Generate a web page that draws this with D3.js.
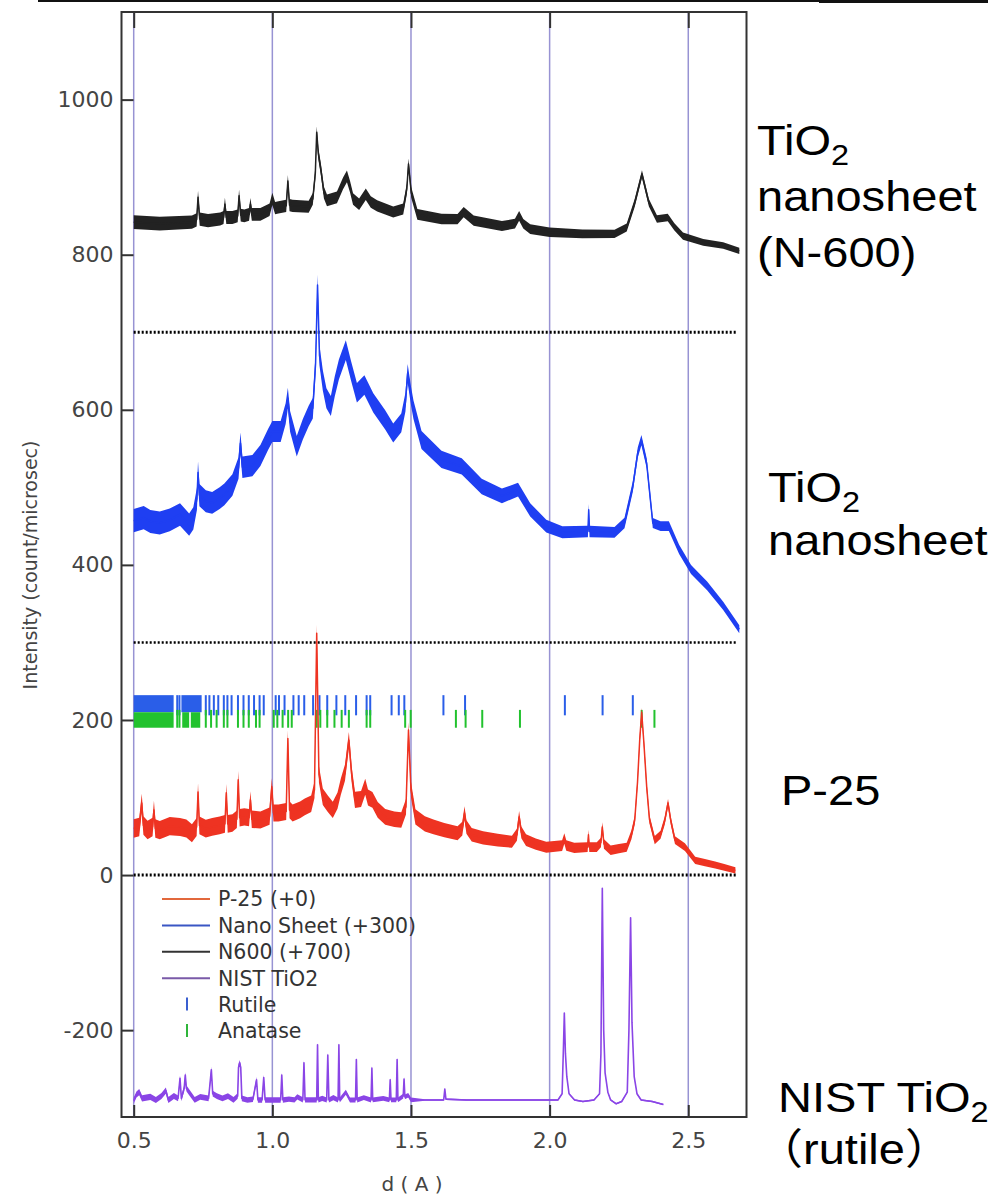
<!DOCTYPE html>
<html>
<head>
<meta charset="utf-8">
<script src="https://cdn.jsdelivr.net/npm/d3@7"></script>
<style>
  body { margin: 0; background: #fff; }
  svg { display: block; }
  .tick text { font-family: 'DejaVu Sans', sans-serif; font-size: 22px; fill: #444; }
</style>
</head>
<body>
<svg id="chart" width="1003" height="1196"></svg>
<script>
// ---- data ----
const xTicks = [0.5, 1.0, 1.5, 2.0, 2.5];
const yTicks = [-200, 0, 200, 400, 600, 800, 1000];
const offsets = [0, 300, 700, 0]; // P-25, Nano Sheet, N600, NIST
const baselines = [0, 300, 700];

// [d, intensity] before offset
const p25 = [[0.50,60],[0.52,62],[0.529,93],[0.535,64],[0.55,58],[0.568,62],[0.573,84],[0.578,60],[0.594,58],[0.63,63],[0.667,62],[0.69,60],[0.71,54],[0.727,62],[0.732,107],[0.737,64],[0.76,60],[0.783,62],[0.81,64],[0.829,66],[0.834,106],[0.839,66],[0.856,67],[0.872,72],[0.877,123],[0.882,74],[0.899,75],[0.916,74],[0.921,97],[0.926,72],[0.957,71],[0.99,76],[0.998,114],[1.004,80],[1.022,80],[1.05,82],[1.056,176],[1.062,84],[1.073,80],[1.10,84],[1.117,88],[1.14,92],[1.152,110],[1.16,312],[1.168,130],[1.182,101],[1.20,92],[1.218,84],[1.235,96],[1.247,114],[1.262,132],[1.276,174],[1.286,130],[1.298,97],[1.32,98],[1.335,114],[1.345,100],[1.361,97],[1.38,84],[1.407,75],[1.44,72],[1.465,71],[1.482,88],[1.491,187],[1.50,110],[1.516,75],[1.55,66],[1.581,62],[1.62,58],[1.668,54],[1.685,60],[1.693,80],[1.70,62],[1.719,52],[1.76,48],[1.813,45],[1.864,43],[1.882,52],[1.89,75],[1.898,55],[1.915,45],[1.95,40],[1.988,36],[2.045,38],[2.053,47],[2.06,38],[2.089,35],[2.137,36],[2.14,52],[2.143,36],[2.17,36],[2.185,42],[2.19,62],[2.196,40],[2.22,32],[2.25,34],[2.278,36],[2.295,52],[2.307,71],[2.317,120],[2.325,175],[2.332,210],[2.34,170],[2.35,114],[2.36,72],[2.379,45],[2.40,52],[2.415,70],[2.427,93],[2.437,70],[2.452,45],[2.488,36],[2.525,19],[2.56,16],[2.597,13],[2.63,10],[2.67,6]];
const nanoSheet = [[0.50,157],[0.536,161],[0.56,156],[0.594,154],[0.63,158],[0.667,165],[0.70,152],[0.715,160],[0.728,185],[0.732,219],[0.737,190],[0.76,182],[0.783,180],[0.81,186],[0.827,191],[0.856,203],[0.878,225],[0.885,257],[0.892,226],[0.928,228],[0.957,241],[0.985,262],[1.0,272],[1.03,272],[1.048,295],[1.056,315],[1.064,285],[1.088,253],[1.11,275],[1.131,292],[1.146,302],[1.156,360],[1.163,461],[1.17,370],[1.182,338],[1.195,315],[1.211,305],[1.225,330],[1.24,352],[1.265,377],[1.284,350],[1.305,322],[1.332,332],[1.364,309],[1.407,287],[1.436,270],[1.465,283],[1.48,310],[1.488,347],[1.50,318],[1.509,300],[1.538,261],[1.61,236],[1.683,227],[1.755,201],[1.828,189],[1.886,197],[1.93,171],[1.988,150],[2.046,142],[2.138,143],[2.141,171],[2.144,143],[2.234,142],[2.27,154],[2.30,201],[2.318,245],[2.331,261],[2.35,231],[2.372,154],[2.40,150],[2.43,150],[2.467,120],[2.51,94],[2.568,73],[2.626,47],[2.684,17]];
const n600 = [[0.50,142],[0.594,140],[0.71,142],[0.727,145],[0.732,174],[0.738,146],[0.768,144],[0.812,146],[0.824,148],[0.829,165],[0.834,148],[0.856,148],[0.875,150],[0.88,176],[0.886,151],[0.899,150],[0.916,152],[0.921,165],[0.926,152],[0.957,152],[0.99,158],[1.0,172],[1.01,160],[1.022,161],[1.05,163],[1.056,195],[1.062,164],[1.073,163],[1.131,162],[1.146,172],[1.155,205],[1.16,258],[1.166,230],[1.175,210],[1.186,180],[1.197,170],[1.233,174],[1.255,192],[1.269,201],[1.28,188],[1.291,172],[1.313,165],[1.337,178],[1.355,168],[1.378,163],[1.436,155],[1.472,159],[1.485,185],[1.491,217],[1.501,180],[1.523,152],[1.61,146],[1.668,146],[1.69,155],[1.726,144],[1.828,137],[1.875,140],[1.89,150],[1.905,140],[1.93,133],[2.0,129],[2.118,127],[2.234,127],[2.278,135],[2.307,167],[2.333,204],[2.358,167],[2.387,146],[2.426,148],[2.45,136],[2.481,124],[2.554,116],[2.626,112],[2.684,105]];
const nistTiO2 = [[0.50,-291],[0.51,-283],[0.52,-280],[0.53,-288],[0.56,-286],[0.58,-290],[0.60,-285],[0.616,-278],[0.625,-290],[0.645,-285],[0.66,-288],[0.667,-262],[0.672,-288],[0.682,-275],[0.686,-258],[0.69,-275],[0.70,-280],[0.72,-290],[0.74,-286],[0.77,-288],[0.775,-270],[0.78,-251],[0.785,-282],[0.80,-285],[0.82,-288],[0.84,-285],[0.86,-290],[0.875,-285],[0.878,-248],[0.882,-242],[0.886,-248],[0.89,-288],[0.91,-290],[0.93,-289],[0.943,-264],[0.948,-290],[0.963,-290],[0.969,-261],[0.974,-290],[1.0,-290],[1.03,-290],[1.034,-258],[1.038,-290],[1.06,-289],[1.08,-290],[1.09,-286],[1.11,-290],[1.114,-242],[1.118,-290],[1.14,-290],[1.16,-290],[1.163,-219],[1.166,-290],[1.18,-288],[1.196,-290],[1.2,-232],[1.204,-290],[1.22,-287],[1.237,-290],[1.24,-219],[1.243,-290],[1.265,-280],[1.28,-290],[1.30,-290],[1.303,-238],[1.306,-290],[1.33,-287],[1.356,-290],[1.359,-249],[1.362,-290],[1.40,-288],[1.422,-290],[1.425,-264],[1.428,-290],[1.447,-290],[1.45,-238],[1.453,-290],[1.472,-285],[1.475,-263],[1.478,-286],[1.49,-284],[1.5,-290],[1.55,-290],[1.60,-290],[1.618,-290],[1.622,-276],[1.626,-289],[1.70,-290],[1.80,-290],[1.90,-290],[2.0,-290],[2.03,-290],[2.045,-282],[2.05,-220],[2.053,-178],[2.057,-230],[2.062,-260],[2.07,-282],[2.09,-290],[2.12,-292],[2.16,-290],[2.18,-282],[2.185,-230],[2.19,-17],[2.195,-200],[2.2,-255],[2.21,-280],[2.22,-290],[2.24,-295],[2.26,-292],[2.28,-280],[2.286,-200],[2.292,-55],[2.297,-190],[2.305,-260],[2.315,-282],[2.33,-290],[2.37,-292],[2.41,-296]];

// noise half-width of each trace band, [d, intensity]
const p25Noise = [[0.5, 12], [1.5, 10], [2.0, 7], [2.7, 4]];
const nanoNoise = [[0.5, 15], [1.5, 12], [2.0, 8], [2.7, 5]];
const n600Noise = [[0.5, 9], [1.5, 7], [2.0, 6], [2.7, 4]];
const nistNoise = [[0.5, 4], [1.5, 3], [1.52, 1], [2.7, 1]];

// reference reflection positions (d)
const rutileBlocks = [[0.5, 0.644], [0.672, 0.745]];
const rutileTicks = [0.657, 0.665, 0.760, 0.773, 0.789, 0.805, 0.825, 0.838, 0.853, 0.876, 0.896, 0.915, 0.934, 0.954, 0.969, 1.012, 1.024, 1.044, 1.076, 1.095, 1.115, 1.147, 1.170, 1.198, 1.231, 1.263, 1.302, 1.340, 1.353, 1.430, 1.456, 1.476, 1.617, 1.695, 2.055, 2.191, 2.300];
const anataseBlocks = [[0.5, 0.644], [0.675, 0.70], [0.706, 0.74]];
const anataseTicks = [0.657, 0.665, 0.760, 0.779, 0.799, 0.825, 0.838, 0.876, 0.896, 0.915, 0.941, 0.954, 1.005, 1.018, 1.037, 1.057, 1.070, 1.160, 1.173, 1.198, 1.224, 1.250, 1.276, 1.340, 1.353, 1.479, 1.499, 1.662, 1.697, 1.757, 1.893, 2.332, 2.378];

const legendLabels = ['P-25 (+0)', 'Nano Sheet (+300)', 'N600 (+700)', 'NIST TiO2', 'Rutile', 'Anatase'];

// ---- layout ----
const width = 1003, height = 1196;
const frame = { left: 121.5, right: 746.5, top: 12, bottom: 1117 };

const x = d3.scaleLinear().domain([0.456, 2.71]).range([frame.left, frame.right]);
const y = d3.scaleLinear().domain([-312, 1113]).range([frame.bottom, frame.top]);

const svg = d3.select('#chart');
svg.append('rect').attr('width', width).attr('height', height).attr('fill', '#fff');

// stray border left over from the source page
svg.append('line').attr('x1', 38).attr('x2', 988).attr('y1', 1).attr('y2', 1)
  .attr('stroke', '#111').attr('stroke-width', 2);
svg.append('line').attr('x1', 819).attr('x2', 988).attr('y1', 1.5).attr('y2', 1.5)
  .attr('stroke', '#111').attr('stroke-width', 3);

// vertical grid lines
svg.append('g').selectAll('line').data(xTicks).join('line')
  .attr('x1', d => x(d)).attr('x2', d => x(d))
  .attr('y1', frame.top).attr('y2', frame.bottom)
  .attr('stroke', '#9893d3').attr('stroke-width', 1.5);

// dotted offset baselines
svg.append('g').selectAll('line').data(baselines).join('line')
  .attr('x1', x(0.5)).attr('x2', x(2.675))
  .attr('y1', d => y(d)).attr('y2', d => y(d))
  .attr('stroke', '#000').attr('stroke-width', d => (d === 300 ? 2.5 : 3))
  .attr('stroke-dasharray', '2,2');

function drawTrace(pts, off, noise, color, lineWidth) {
  const h = d3.scaleLinear().domain(noise.map(n => n[0])).range(noise.map(n => n[1])).clamp(true);
  const g = svg.append('g');
  g.append('path').datum(pts)
    .attr('d', d3.area()
      .x(d => x(d[0]))
      .y0(d => y(d[1] + off - h(d[0])))
      .y1(d => y(d[1] + off + h(d[0]))))
    .attr('fill', color);
  g.append('path').datum(pts)
    .attr('d', d3.line().x(d => x(d[0])).y(d => y(d[1] + off)))
    .attr('fill', 'none').attr('stroke', color)
    .attr('stroke-width', lineWidth).attr('stroke-linejoin', 'round');
}

function drawRefs(blocks, ticks, lo, hi, bLo, bHi, color) {
  const g = svg.append('g');
  g.selectAll('rect').data(blocks).join('rect')
    .attr('x', d => x(d[0])).attr('width', d => x(d[1]) - x(d[0]))
    .attr('y', y(bHi)).attr('height', y(bLo) - y(bHi))
    .attr('fill', color);
  g.selectAll('line').data(ticks).join('line')
    .attr('x1', d => x(d)).attr('x2', d => x(d))
    .attr('y1', y(lo)).attr('y2', y(hi))
    .attr('stroke', color).attr('stroke-width', 2);
}

drawTrace(nistTiO2, offsets[3], nistNoise, '#8a45e6', 1.6);
drawRefs(rutileBlocks, rutileTicks, 206, 232, 210, 232, '#2a5ee8');
drawRefs(anataseBlocks, anataseTicks, 190, 213, 190, 210, '#22c22e');
drawTrace(p25, offsets[0], p25Noise, '#ee3322', 1.5);
drawTrace(nanoSheet, offsets[1], nanoNoise, '#1f3ff2', 1.5);
drawTrace(n600, offsets[2], n600Noise, '#222222', 1.5);

// axes: ticks point inward
svg.append('g')
  .attr('transform', `translate(${frame.left},0)`)
  .call(d3.axisLeft(y).tickValues(yTicks).tickSize(-12).tickPadding(8).tickFormat(d => String(d)))
  .call(g => g.select('.domain').remove())
  .call(g => g.selectAll('.tick line').attr('stroke', '#333').attr('stroke-width', 2));

svg.append('g')
  .attr('transform', `translate(0,${frame.bottom})`)
  .call(d3.axisBottom(x).tickValues(xTicks).tickSize(-12).tickPadding(15).tickFormat(d3.format('.1f')))
  .call(g => g.select('.domain').remove())
  .call(g => g.selectAll('.tick line').attr('stroke', '#333').attr('stroke-width', 2));

svg.append('g')
  .attr('transform', `translate(0,${frame.top})`)
  .call(d3.axisTop(x).tickValues(xTicks).tickSize(-16).tickFormat(''))
  .call(g => g.select('.domain').remove())
  .call(g => g.selectAll('.tick line').attr('stroke', '#333').attr('stroke-width', 2));

// frame
svg.append('rect')
  .attr('x', frame.left).attr('y', frame.top)
  .attr('width', frame.right - frame.left).attr('height', frame.bottom - frame.top)
  .attr('fill', 'none').attr('stroke', '#333').attr('stroke-width', 2);

// axis titles
svg.append('text')
  .attr('transform', 'translate(37,565) rotate(-90)')
  .attr('text-anchor', 'middle')
  .style('font-family', "'DejaVu Sans', sans-serif").style('font-size', '19px').style('fill', '#444')
  .text('Intensity (count/microsec)');

svg.append('text')
  .attr('x', 412).attr('y', 1191)
  .attr('text-anchor', 'middle')
  .style('font-family', "'DejaVu Sans', sans-serif").style('font-size', '20px').style('fill', '#444')
  .text('d ( A )');

// legend
const legendColors = ['#e2683c', '#3a56c4', '#333333', '#7a5aa8', '#3a5fd0', '#2fb53a'];
const legend = svg.append('g').attr('transform', 'translate(162,899)');
legendLabels.forEach((label, i) => {
  const row = legend.append('g').attr('transform', `translate(0,${i * 26.4})`);
  if (i < 4) {
    row.append('line').attr('x1', 0).attr('x2', 48).attr('y1', 0).attr('y2', 0)
      .attr('stroke', legendColors[i]).attr('stroke-width', 2);
  } else {
    row.append('line').attr('x1', 25).attr('x2', 25).attr('y1', -7).attr('y2', 6)
      .attr('stroke', legendColors[i]).attr('stroke-width', 2);
  }
  row.append('text').attr('x', 56).attr('y', 0).attr('dy', '0.36em')
    .style('font-family', "'DejaVu Sans', sans-serif").style('font-size', '20.5px').style('fill', '#333')
    .text(label);
});

// sample names on the right
const labelFont = "'Liberation Sans', Arial, 'Noto Sans CJK JP', sans-serif";
function rightText(str, xPos, yPos, sub) {
  const t = svg.append('text')
    .attr('transform', `translate(${xPos},${yPos}) scale(1.12,1)`)
    .style('font-family', labelFont).style('font-size', '42px').style('fill', '#000');
  t.append('tspan').text(str);
  if (sub) t.append('tspan').attr('dy', 10).style('font-size', '29px').text(sub);
}
rightText('TiO', 757, 155, '2');
rightText('nanosheet', 757, 211);
rightText('(N-600)', 757, 267);
rightText('TiO', 768, 502, '2');
rightText('nanosheet', 768, 555);
rightText('P-25', 781, 805);
rightText('NIST TiO', 778, 1112, '2');
rightText('（rutile）', 756, 1164);
</script>
</body>
</html>
